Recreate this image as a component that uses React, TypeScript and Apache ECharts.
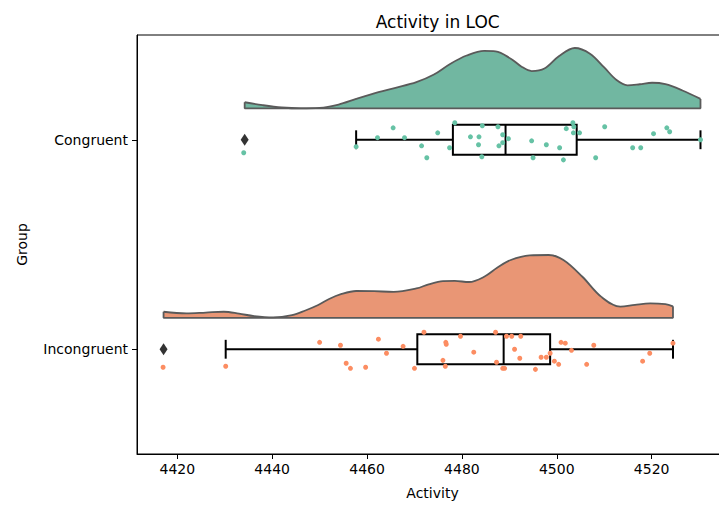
import React, { useEffect, useRef } from "react";
import * as echarts from "echarts";

// ---------- data ----------
const groups = ["Congruent", "Incongruent"];
const xTicks = [4420, 4440, 4460, 4480, 4500, 4520];
const yTicks = [0, 1];

const congruentValues = [
  4434.0, 4457.7, 4462.2, 4465.5, 4467.9, 4471.5, 4472.6, 4474.9, 4477.4, 4478.5,
  4481.8, 4483.6, 4483.5, 4484.3, 4484.2, 4487.6, 4488.6, 4488.6, 4487.8, 4489.8,
  4494.7, 4495.0, 4497.8, 4500.6, 4501.4, 4502.0, 4503.4, 4503.6, 4503.5, 4504.8,
  4508.2, 4510.1, 4516.0, 4517.7, 4520.4, 4523.2, 4523.8, 4530.3,
];
const congruentJitter = [
  0.062, 0.033, -0.01, -0.057, -0.01, 0.029, 0.086, -0.033, 0.038, -0.081,
  -0.014, -0.014, 0.024, -0.067, 0.081, -0.062, -0.024, 0.014, 0.029, -0.005,
  0.005, 0.086, 0.024, 0.038, 0.096, -0.053, -0.081, -0.062, -0.033, -0.033,
  0.086, -0.062, 0.038, 0.038, -0.029, -0.057, -0.038, 0.0,
];

const incongruentValues = [
  4417.0, 4430.2, 4450.0, 4454.4, 4455.6, 4456.5, 4459.7, 4462.4, 4464.1, 4467.6,
  4470.0, 4472.0, 4476.6, 4476.7, 4476.0, 4476.5, 4479.7, 4482.5, 4487.1, 4487.3,
  4488.6, 4489.0, 4489.4, 4490.5, 4492.4, 4491.1, 4492.2, 4495.5, 4496.7, 4497.8,
  4498.6, 4499.5, 4500.4, 4500.9, 4501.8, 4503.1, 4506.3, 4507.8, 4518.1, 4519.6,
  4524.5,
];
const incongruentJitter = [
  0.086, 0.081, -0.033, -0.019, 0.067, 0.091, 0.086, -0.048, 0.019, -0.014,
  0.091, -0.081, -0.033, -0.024, 0.053, 0.081, -0.062, 0.014, -0.081, 0.062,
  0.091, 0.091, -0.062, -0.062, -0.062, 0.0, 0.043, 0.096, 0.038, 0.038,
  0.019, 0.057, 0.072, -0.033, -0.029, 0.005, 0.072, -0.019, 0.057, 0.019,
  -0.029,
];

// box stats: min whisker, Q1, median, Q3, max whisker
const congruentBox = [4457.7, 4478.1, 4489.2, 4504.2, 4530.3];
const incongruentBox = [4430.2, 4470.6, 4488.8, 4498.6, 4524.5];
const congruentOutliers = [4434.2];
const incongruentOutliers = [4417.1];

// half-violin (cloud) outline: x positions and density heights (category units)
const congruentDensityX = [
  4434.2, 4438, 4442, 4446, 4450, 4454, 4457.7, 4462.4, 4466, 4470.4, 4474, 4477.6,
  4481, 4484.7, 4487.1, 4490.3, 4492.5, 4494.7, 4497.4, 4500.5, 4503.8, 4507.0,
  4510, 4512.6, 4514.9, 4517.5, 4520.1, 4522.9, 4526.5, 4530.3,
];
const congruentDensityH = [
  0.029, 0.015, 0.004, 0.0, 0.002, 0.018, 0.045, 0.077, 0.098, 0.125, 0.16, 0.213,
  0.252, 0.274, 0.272, 0.237, 0.2, 0.178, 0.19, 0.25, 0.288, 0.261,
  0.195, 0.135, 0.11, 0.115, 0.122, 0.115, 0.085, 0.045,
];
const incongruentDensityX = [
  4417.1, 4421.9, 4426, 4429.8, 4433, 4436.2, 4440.2, 4444.2, 4447, 4449.7, 4452,
  4454.5, 4457.7, 4461.5, 4465.6, 4470.4, 4473, 4476.0, 4478.5, 4481.5, 4484.7,
  4487.5, 4490.3, 4494.3, 4498.3, 4501.4, 4505.4, 4509.4, 4513.4, 4516.5, 4519.7,
  4522.9, 4524.5,
];
const incongruentDensityH = [
  0.029, 0.021, 0.025, 0.029, 0.02, 0.008, 0.002, 0.013, 0.035, 0.061, 0.09,
  0.113, 0.128, 0.127, 0.124, 0.14, 0.16, 0.175, 0.176, 0.171, 0.196,
  0.24, 0.276, 0.298, 0.3, 0.276, 0.196, 0.1, 0.053, 0.062, 0.069,
  0.065, 0.055,
];

// ---------- styling constants ----------
const CLOUD_OFFSET = 0.15;
const BOX_HALF = 0.072;
const CAP_HALF = 0.045;
const FONT = "DejaVu Sans";
const cloudColors = ["#71b7a1", "#e99675"];
const rainColors = ["#66c2a5", "#fc8d62"];
const outlineColor = "#5a5a5a";

const groupData = [
  {
    values: congruentValues,
    jitter: congruentJitter,
    box: congruentBox,
    outliers: congruentOutliers,
    dx: congruentDensityX,
    dh: congruentDensityH,
  },
  {
    values: incongruentValues,
    jitter: incongruentJitter,
    box: incongruentBox,
    outliers: incongruentOutliers,
    dx: incongruentDensityX,
    dh: incongruentDensityH,
  },
];

function buildSeries(): any[] {
  const series: any[] = [];
  groupData.forEach((g, i) => {
    const base = i - CLOUD_OFFSET;
    series.push({
      type: "line",
      data: g.dx.map((x, k) => [x, base - g.dh[k]]),
      smooth: 0.35,
      showSymbol: false,
      symbol: "none",
      lineStyle: { color: outlineColor, width: 1.8 },
      areaStyle: { color: cloudColors[i], opacity: 1, origin: base },
      z: 1,
      silent: true,
    });
    const n = g.dx.length - 1;
    series.push({
      type: "line",
      data: [
        [g.dx[0], base - g.dh[0]],
        [g.dx[0], base],
        [g.dx[n], base],
        [g.dx[n], base - g.dh[n]],
      ],
      smooth: false,
      showSymbol: false,
      symbol: "none",
      lineStyle: { color: outlineColor, width: 1.8 },
      z: 2,
      silent: true,
    });
    series.push({
      type: "custom",
      coordinateSystem: "cartesian2d",
      data: [[i, ...g.box]],
      encode: { x: [1, 2, 3, 4, 5], y: 0 },
      z: 3,
      silent: true,
      renderItem: (params: any, api: any) => {
        const c = api.value(0);
        const mn = api.value(1);
        const q1 = api.value(2);
        const md = api.value(3);
        const q3 = api.value(4);
        const mx = api.value(5);
        const style = { stroke: "#000", lineWidth: 2, fill: "none" };
        const a = api.coord([q1, c - BOX_HALF]);
        const b = api.coord([q3, c + BOX_HALF]);
        const line = (x1: number, y1: number, x2: number, y2: number) => {
          const p1 = api.coord([x1, y1]);
          const p2 = api.coord([x2, y2]);
          return {
            type: "line",
            shape: { x1: p1[0], y1: p1[1], x2: p2[0], y2: p2[1] },
            style,
          };
        };
        return {
          type: "group",
          children: [
            line(mn, c, q1, c),
            line(q3, c, mx, c),
            line(mn, c - CAP_HALF, mn, c + CAP_HALF),
            line(mx, c - CAP_HALF, mx, c + CAP_HALF),
            {
              type: "rect",
              shape: {
                x: Math.min(a[0], b[0]),
                y: Math.min(a[1], b[1]),
                width: Math.abs(b[0] - a[0]),
                height: Math.abs(b[1] - a[1]),
              },
              style,
            },
            line(md, c - BOX_HALF, md, c + BOX_HALF),
          ],
        };
      },
    });
    series.push({
      type: "scatter",
      data: g.values.map((v, k) => [v, i + g.jitter[k]]),
      symbolSize: 5,
      itemStyle: { color: rainColors[i], opacity: 1 },
      z: 4,
      silent: true,
    });
    series.push({
      type: "scatter",
      data: g.outliers.map((v) => [v, i]),
      symbol: "diamond",
      symbolSize: [8, 12],
      itemStyle: { color: "#000" },
      z: 5,
      silent: true,
    });
  });
  return series;
}

export default function App() {
  const ref = useRef<HTMLDivElement>(null);
  useEffect(() => {
    if (!ref.current) return;
    const chart = echarts.init(ref.current, undefined, { renderer: "svg" });
    chart.setOption({
      animation: false,
      textStyle: { fontFamily: FONT },
      title: {
        text: "Activity in LOC",
        left: 432.7,
        top: 8,
        textAlign: "center",
        textStyle: { fontFamily: FONT, fontSize: 17, fontWeight: "normal", color: "#000" },
      },
      grid: {
        left: 137,
        top: 35,
        width: 591,
        height: 419,
        show: true,
        borderColor: "#000",
        borderWidth: 1,
        backgroundColor: "transparent",
      },
      xAxis: {
        type: "value",
        min: 4411.5,
        max: 4536.1,
        axisLine: { show: true, onZero: false, lineStyle: { color: "#000", width: 1 } },
        axisTick: { show: true, customValues: xTicks, length: 5, lineStyle: { color: "#000" } },
        axisLabel: {
          customValues: xTicks,
          formatter: (v: number) => String(v),
          color: "#000",
          fontSize: 14,
          fontFamily: FONT,
          margin: 8,
        },
        splitLine: { show: false },
        name: "Activity",
        nameLocation: "middle",
        nameGap: 32,
        nameTextStyle: { color: "#000", fontSize: 14, fontFamily: FONT },
      },
      yAxis: {
        type: "value",
        min: -0.5,
        max: 1.5,
        inverse: true,
        axisLine: { show: true, onZero: false, lineStyle: { color: "#000", width: 1 } },
        axisTick: { show: true, customValues: yTicks, length: 5, lineStyle: { color: "#000" } },
        axisLabel: {
          customValues: yTicks,
          formatter: (v: number) => groups[Math.round(v)] ?? "",
          color: "#000",
          fontSize: 14,
          fontFamily: FONT,
          margin: 9,
        },
        splitLine: { show: false },
        name: "Group",
        nameLocation: "middle",
        nameGap: 108,
        nameTextStyle: { color: "#000", fontSize: 14, fontFamily: FONT },
      },
      series: buildSeries(),
    });
    return () => chart.dispose();
  }, []);
  return (
    <div
      style={{
        position: "fixed",
        left: 0,
        top: 0,
        width: 719,
        height: 505,
        overflow: "hidden",
        background: "#fff",
      }}
    >
      <div ref={ref} style={{ width: 745, height: 505 }} />
    </div>
  );
}
